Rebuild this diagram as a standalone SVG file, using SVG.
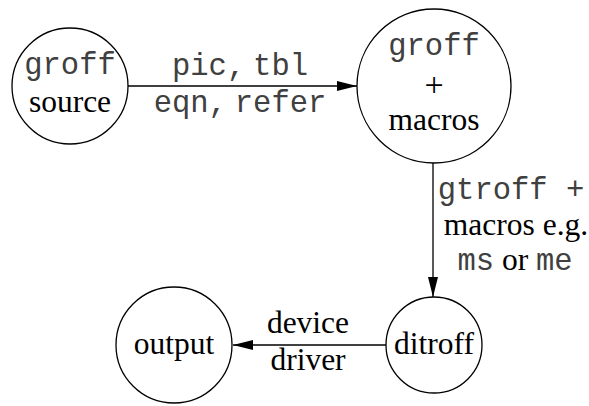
<svg xmlns="http://www.w3.org/2000/svg" width="589" height="406" viewBox="0 0 589 406">
<style>
.n{fill:none;stroke:#000;stroke-width:1.3}
.e{fill:none;stroke:#000;stroke-width:1.3}
text{font-family:"Liberation Serif","Times New Roman",serif;font-size:31.5px;fill:#000;text-anchor:middle}
.m{font-family:"Liberation Mono","Courier New",monospace;font-size:30.5px;fill:#404040}
</style>
<defs>
<marker id="ah" viewBox="0 0 20 10" refX="20" refY="5" markerWidth="20" markerHeight="10" markerUnits="userSpaceOnUse" orient="auto">
<path d="M0,0 L20,5 L0,10 Z" fill="#000"/>
</marker>
</defs>
<g id="connectors">
<line class="e" x1="128" y1="86" x2="357" y2="86" marker-end="url(#ah)"/>
<line class="e" x1="433" y1="163" x2="433" y2="297" marker-end="url(#ah)"/>
<line class="e" x1="386" y1="345" x2="233" y2="345" marker-end="url(#ah)"/>
<text x="240" y="75"><tspan class="m">pic,</tspan> <tspan class="m">tbl</tspan></text>
<text x="240" y="112"><tspan class="m">eqn,</tspan> <tspan class="m">refer</tspan></text>
<text x="511" y="199" class="m" xml:space="preserve">gtroff +</text>
<text x="516" y="235">macros e.g.</text>
<text x="515" y="270"><tspan class="m">ms</tspan> or <tspan class="m">me</tspan></text>
<text x="308" y="333">device</text>
<text x="308" y="370">driver</text>
</g>
<g id="groff-source">
<circle class="n" cx="70" cy="86" r="58"/>
<text x="70" y="74" class="m">groff</text>
<text x="70" y="112">source</text>
</g>
<g id="groff-macros">
<circle class="n" cx="434" cy="86" r="77"/>
<text x="434" y="55" class="m">groff</text>
<text x="434" y="96" style="font-size:34px">+</text>
<text x="434" y="130">macros</text>
</g>
<g id="ditroff">
<circle class="n" cx="434" cy="345" r="48"/>
<text x="434" y="354">ditroff</text>
</g>
<g id="output">
<circle class="n" cx="174" cy="345" r="58"/>
<text x="174" y="354">output</text>
</g>
</svg>
